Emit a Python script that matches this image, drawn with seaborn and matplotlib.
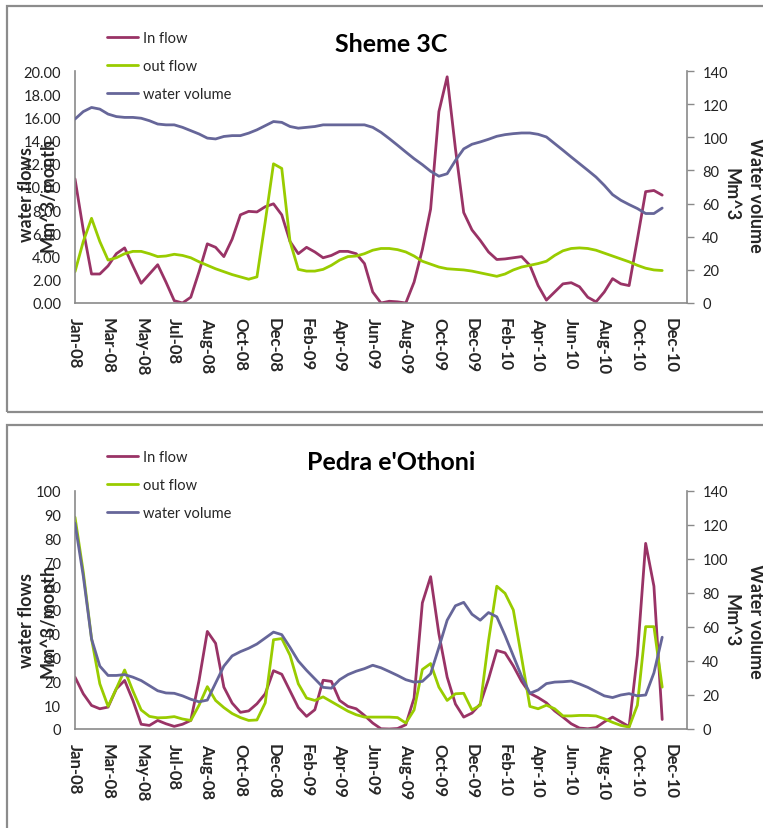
import numpy as np
import matplotlib
matplotlib.use("Agg")
import matplotlib.pyplot as plt
import seaborn as sns
from matplotlib.patches import Rectangle
from matplotlib.ticker import FixedLocator, FixedFormatter

# ---------------------------------------------------------------- data
# Category labels on the time axis (one label every 4 observations)
month_labels = ["Jan-08", "Mar-08", "May-08", "Jul-08", "Aug-08", "Oct-08",
                "Dec-08", "Feb-09", "Apr-09", "Jun-09", "Aug-09", "Oct-09",
                "Dec-09", "Feb-10", "Apr-10", "Jun-10", "Aug-10", "Oct-10",
                "Dec-10"]
points_per_label = 4

# Sheme 3C reservoir (flows in Mm^3/month, volume in Mm^3)
sheme_inflow = [10.7, 6.3, 2.5, 2.5, 3.2, 4.25, 4.75, 3.2, 1.7, 2.5, 3.3, 1.8,
                0.2, 0.0, 0.5, 2.7, 5.1, 4.8, 4.0, 5.5, 7.6, 7.9, 7.85, 8.3,
                8.55, 7.6, 5.3, 4.25, 4.8, 4.4, 3.9, 4.1, 4.45, 4.45, 4.25, 3.4,
                0.95, 0.0, 0.15, 0.1, 0.0, 1.8, 4.6, 8.1, 16.5, 19.5, 13.3, 7.8,
                6.3, 5.4, 4.4, 3.75, 3.8, 3.9, 4.0, 3.25, 1.5, 0.25, 0.95, 1.65,
                1.75, 1.4, 0.5, 0.1, 0.95, 2.1, 1.65, 1.5, 5.5, 9.6, 9.7, 9.3]
sheme_outflow = [2.7, 5.3, 7.3, 5.3, 3.7, 3.9, 4.25, 4.45, 4.45, 4.25, 4.0, 4.05,
                 4.2, 4.1, 3.9, 3.55, 3.25, 2.95, 2.7, 2.45, 2.25, 2.05, 2.25, 7.0,
                 12.0, 11.6, 5.3, 2.9, 2.75, 2.75, 2.9, 3.25, 3.7, 4.0, 4.05, 4.25,
                 4.55, 4.7, 4.7, 4.6, 4.4, 4.05, 3.6, 3.35, 3.1, 2.95, 2.9, 2.85,
                 2.75, 2.6, 2.45, 2.3, 2.5, 2.85, 3.1, 3.25, 3.4, 3.6, 4.1, 4.5,
                 4.7, 4.75, 4.7, 4.55, 4.3, 4.05, 3.8, 3.55, 3.25, 3.0, 2.85, 2.8]
sheme_volume = [111, 115.5, 118, 117, 114, 112.5, 112, 112, 111.5, 110, 108, 107.5,
                107.5, 106, 104, 102, 99.5, 99, 100.5, 101, 101, 102.5, 104.5, 107,
                109.5, 109, 106.5, 105.5, 106, 106.5, 107.5, 107.5, 107.5, 107.5,
                107.5, 107.5, 106, 103, 99.2, 95.2, 91.1, 87.1, 83.5, 79.5, 76.5,
                78, 86, 93, 95.8, 97.2, 98.8, 100.6, 101.6, 102.2, 102.6, 102.6,
                101.8, 100.2, 96.2, 92.2, 88.1, 84.1, 80.1, 76, 71, 65.4, 62, 59.4,
                57, 54, 54, 57.3]

# Pedra e'Othoni reservoir
pedra_inflow = [21.8, 14.8, 9.9, 8.5, 9.2, 16.9, 20.4, 12.0, 2.0, 1.5, 3.6, 2.2,
                1.1, 2.0, 3.6, 20.4, 41.0, 36.0, 17.6, 10.9, 7.0, 7.6, 10.6, 14.8,
                24.5, 23.0, 16.0, 9.0, 5.3, 8.1, 20.5, 20.0, 12.0, 9.5, 8.5, 5.7,
                2.5, 0.1, 0.0, 0.2, 1.8, 13.0, 53.0, 64.0, 40.0, 21.8, 10.5, 5.0,
                6.7, 10.5, 21.0, 33.0, 32.0, 26.5, 20.0, 15.0, 13.2, 11.0, 7.6, 5.0,
                2.2, 0.4, 0.1, 0.6, 3.0, 5.0, 3.0, 1.0, 31.0, 78.0, 60.0, 4.0]
pedra_outflow = [89, 66, 38, 19, 9.5, 17, 24.8, 16, 8, 5.3, 4.7, 4.8,
                 5.2, 4.2, 3.6, 10, 17.8, 12, 9, 6.5, 4.8, 3.6, 3.8, 11,
                 37.5, 38, 31, 19, 13, 12, 13.5, 11.5, 9.5, 7.5, 6, 5,
                 5, 5, 5, 4.8, 2.5, 8, 25, 27.5, 17.6, 12, 14.8, 15,
                 8, 10, 37, 60, 57, 50, 30, 9.5, 8.5, 10, 8.5, 5.5,
                 5.5, 5.7, 5.7, 5.5, 4.3, 2.8, 1.5, 0.8, 10, 43, 43, 17.6]
pedra_volume = [121, 90, 53, 37, 31.5, 31.5, 32, 30.5, 28.5, 25.5, 22.5, 21.2,
                21, 19.5, 17.5, 16, 17, 27, 37, 43, 45.5, 47.5, 50, 53.5,
                57, 55.5, 48, 40, 34.5, 29.5, 24.5, 24, 29, 32, 34, 35.5,
                37.5, 36, 33.8, 31.5, 29, 27.6, 28, 32.5, 48, 64, 72.5, 74.5,
                67.5, 64, 68.5, 66, 55, 43, 31, 21, 23, 26.7, 27.6, 27.8,
                28.2, 26.5, 24.5, 22, 19.5, 18.5, 20, 20.8, 19.5, 20, 33, 54]

# ---------------------------------------------------------------- style
sns.set_theme(style="white")
plt.rcParams["font.family"] = ["Lato", "DejaVu Sans"]
plt.rcParams["lines.solid_joinstyle"] = "round"
plt.rcParams["lines.solid_capstyle"] = "round"

C_IN, C_OUT, C_VOL = "#993366", "#99CC00", "#666699"
AXIS_GREY = "#8a8a8a"
LW = 2.0

FIG_W, FIG_H = 763, 829
fig = plt.figure(figsize=(FIG_W / 100, FIG_H / 100), dpi=100)


def fx(px):
    return px / FIG_W


def fy(py):
    return 1 - py / FIG_H


def panel(box_top, box_bottom, plot_top, plot_bottom, title, title_base,
          inflow, outflow, volume, flow_max, flow_step, flow_fmt,
          legend_top, label_mid):
    # grey frame around the panel
    fig.patches.append(Rectangle((fx(7), fy(box_bottom)), fx(800),
                                 (box_bottom - box_top) / FIG_H,
                                 transform=fig.transFigure, fill=False,
                                 edgecolor="#8c8c8c", lw=1.6, zorder=0))

    ax = fig.add_axes([fx(75), fy(plot_bottom), fx(687) - fx(75),
                       (plot_bottom - plot_top) / FIG_H])
    ax2 = ax.twinx()

    steps = np.arange(len(inflow)) / points_per_label
    sns.lineplot(x=steps, y=inflow, ax=ax, color=C_IN, lw=LW,
                 label="In flow", legend=False, estimator=None)
    sns.lineplot(x=steps, y=outflow, ax=ax, color=C_OUT, lw=LW,
                 label="out flow", legend=False, estimator=None)
    sns.lineplot(x=steps, y=volume, ax=ax2, color=C_VOL, lw=LW,
                 label="water volume", legend=False, estimator=None)

    ticks = np.arange(len(month_labels))
    ax.set_xlim(0, 18.5)
    ax.xaxis.set_major_locator(FixedLocator(ticks))
    ax.xaxis.set_major_formatter(FixedFormatter(month_labels))
    ax.tick_params(axis="x", length=0, pad=10, labelsize=12)
    for lab in ax.get_xticklabels():
        lab.set_rotation(270)
        lab.set_fontweight("bold")
        lab.set_ha("center")
        lab.set_va("top")

    ax.set_ylim(0, flow_max)
    yt = np.arange(0, flow_max + flow_step / 2, flow_step)
    ax.set_yticks(yt)
    ax.set_yticklabels([flow_fmt.format(v) for v in yt])
    ax.tick_params(axis="y", length=0, pad=10, labelsize=10.5,
                   colors="#222222")

    ax2.set_ylim(0, 140)
    ax2.set_yticks(np.arange(0, 141, 20))
    ax2.tick_params(axis="y", length=5, width=1, direction="out",
                    color=AXIS_GREY, pad=6, labelsize=10.5, labelcolor="#222222")
    ax.set_xlabel("")
    ax.set_ylabel("")
    ax2.set_ylabel("")

    for a in (ax, ax2):
        for s in a.spines.values():
            s.set_visible(False)
        a.grid(False)
    for s, a in (("left", ax), ("bottom", ax), ("right", ax2)):
        a.spines[s].set_visible(True)
        a.spines[s].set_color(AXIS_GREY)
        a.spines[s].set_linewidth(1.2)
    ax2.patch.set_visible(False)

    fig.text(fx(391), fy(title_base), title, ha="center", va="baseline",
             fontsize=18, fontweight="bold", color="black")

    fig.text(fx(27), fy(label_mid), "water flows", rotation=90, ha="center",
             va="center", fontsize=13, fontweight="bold")
    fig.text(fx(48), fy(label_mid), "Mm^3/month", rotation=90, ha="center",
             va="center", fontsize=13, fontweight="bold")
    fig.text(fx(756), fy(label_mid), "Water volume", rotation=270,
             ha="center", va="center", fontsize=13, fontweight="bold")
    fig.text(fx(731), fy(label_mid), "Mm^3", rotation=270, ha="center",
             va="center", fontsize=13, fontweight="bold")

    handles = ax.get_lines() + ax2.get_lines()
    fig.legend(handles, [h.get_label() for h in handles], loc="upper left",
               bbox_to_anchor=(fx(107), fy(legend_top)), frameon=False,
               fontsize=10.5, handlelength=2.1, handletextpad=0.35,
               labelspacing=0.96, borderpad=0, borderaxespad=0)


panel(7, 413, 72, 304, "Sheme 3C", 52,
      sheme_inflow, sheme_outflow, sheme_volume, 20, 2, "{:.2f}", 32, 195)
panel(426, 900, 492, 730, "Pedra e'Othoni", 470,
      pedra_inflow, pedra_outflow, pedra_volume, 100, 10, "{:.0f}", 451, 621)

fig.savefig("out.png", dpi=100)
